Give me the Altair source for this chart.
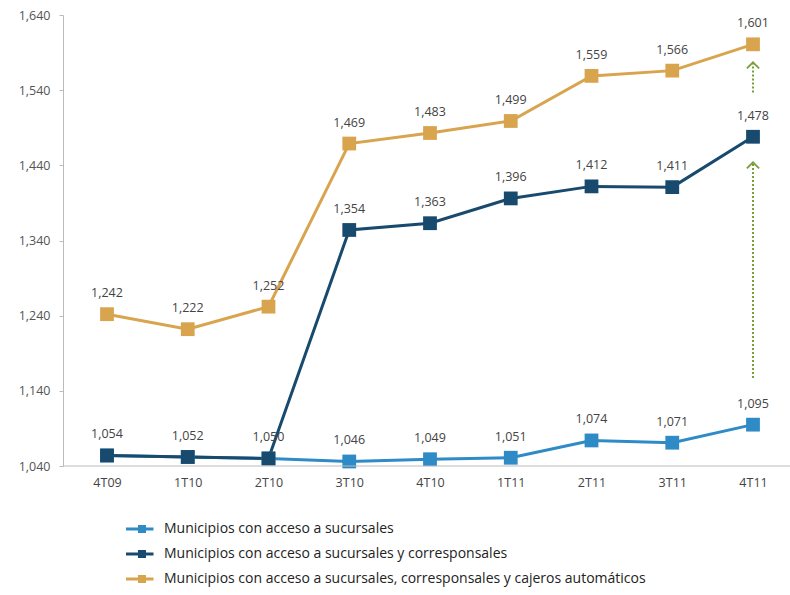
import altair as alt
import pandas as pd

periods = ["4T09", "1T10", "2T10", "3T10", "4T10", "1T11", "2T11", "3T11", "4T11"]
sucursales = [1054, 1052, 1050, 1046, 1049, 1051, 1074, 1071, 1095]
corresponsales = [1054, 1052, 1050, 1354, 1363, 1396, 1412, 1411, 1478]
cajeros = [1242, 1222, 1252, 1469, 1483, 1499, 1559, 1566, 1601]
series_names = [
    "Municipios con acceso a sucursales",
    "Municipios con acceso a sucursales y corresponsales",
    "Municipios con acceso a sucursales, corresponsales y cajeros automáticos",
]
series_colors = ["#2e8bc6", "#184a6e", "#d9a44e"]
label_from = [0, 3, 0]
y_ticks = [1040, 1140, 1240, 1340, 1440, 1540, 1640]

arrow_period = ["4T11", "4T11"]
arrow_start = [1157, 1537]
arrow_end = [1444, 1577]

all_values = [sucursales, corresponsales, cajeros]
rows = []
for k in [2, 0, 1]:
    for i, (p, v) in enumerate(zip(periods, all_values[k])):
        rows.append({"period": p, "value": v, "serie": series_names[k],
                     "show": i >= label_from[k]})
df = pd.DataFrame(rows)
df_arrows = pd.DataFrame({"period": arrow_period, "value": arrow_start, "end": arrow_end})
df_heads = pd.DataFrame({"period": arrow_period, "value": arrow_end})
df_base = pd.DataFrame({"value": [y_ticks[0]]})

FONT = "Open Sans"
xscale = alt.Scale(type="point", range=[44, 690], padding=0)
xaxis = alt.Axis(title=None, domain=False, ticks=False, labelAngle=0,
                 labelPadding=10, labelFontSize=12.5, labelColor="#444",
                 labelFont=FONT)
yscale = alt.Scale(domain=[y_ticks[0], y_ticks[-1]], nice=False, zero=False)
yaxis = alt.Axis(title=None, values=y_ticks, format=",.0f", grid=False,
                 tickSize=4, labelPadding=9, domainColor="#bbbbbb",
                 tickColor="#bbbbbb", labelColor="#555", labelFontSize=12.5,
                 labelFont=FONT)
xenc = alt.X("period:N", sort=periods, scale=xscale, axis=xaxis)
yenc = alt.Y("value:Q", scale=yscale, axis=yaxis)
color = alt.Color("serie:N",
                  scale=alt.Scale(domain=series_names, range=series_colors),
                  legend=alt.Legend(title=None, orient="none", legendX=72, legendY=507,
                                    symbolType="M-3.2,0H2.3M-0.5,-0.5H0.5V0.5H-0.5Z",
                                    symbolSize=100, symbolStrokeWidth=3,
                                    labelFontSize=14, labelFont=FONT, labelColor="#222",
                                    labelOffset=15, rowPadding=7, padding=0,
                                    labelLimit=700))

base = alt.Chart(df)
lines = base.mark_line(strokeWidth=3).encode(x=xenc, y=yenc, color=color)
points = base.mark_point(shape="square", filled=True, size=190, opacity=1).encode(
    x=xenc, y=yenc, color=color)
labels = base.transform_filter("datum.show").mark_text(
    dy=-21, fontSize=12.5, font=FONT, color="#444").encode(
    x=xenc, y=yenc, text=alt.Text("value:Q", format=","))
baseline = alt.Chart(df_base).mark_rule(color="#bbbbbb").encode(
    y=yenc, x=alt.value(0), x2=alt.value(727))
arrow_lines = alt.Chart(df_arrows).mark_rule(
    color="#7a9e3c", strokeWidth=2, strokeDash=[2, 2]).encode(
    x=xenc, y=yenc, y2="end:Q")
arrow_heads = alt.Chart(df_heads).mark_point(
    shape="M-1,1L0,0L1,1", filled=False, size=150, color="#7a9e3c",
    strokeWidth=1.8, opacity=1).encode(x=xenc, y=yenc)

chart = alt.layer(lines, points, labels, baseline, arrow_lines, arrow_heads).properties(
    width=727, height=451, background="white",
    autosize=alt.AutoSizeParams(type="none"),
    padding={"left": 63, "top": 15, "right": 0, "bottom": 129},
).configure_view(stroke=None)

chart.save("out.html", embed_options={"renderer": "svg", "actions": False})
